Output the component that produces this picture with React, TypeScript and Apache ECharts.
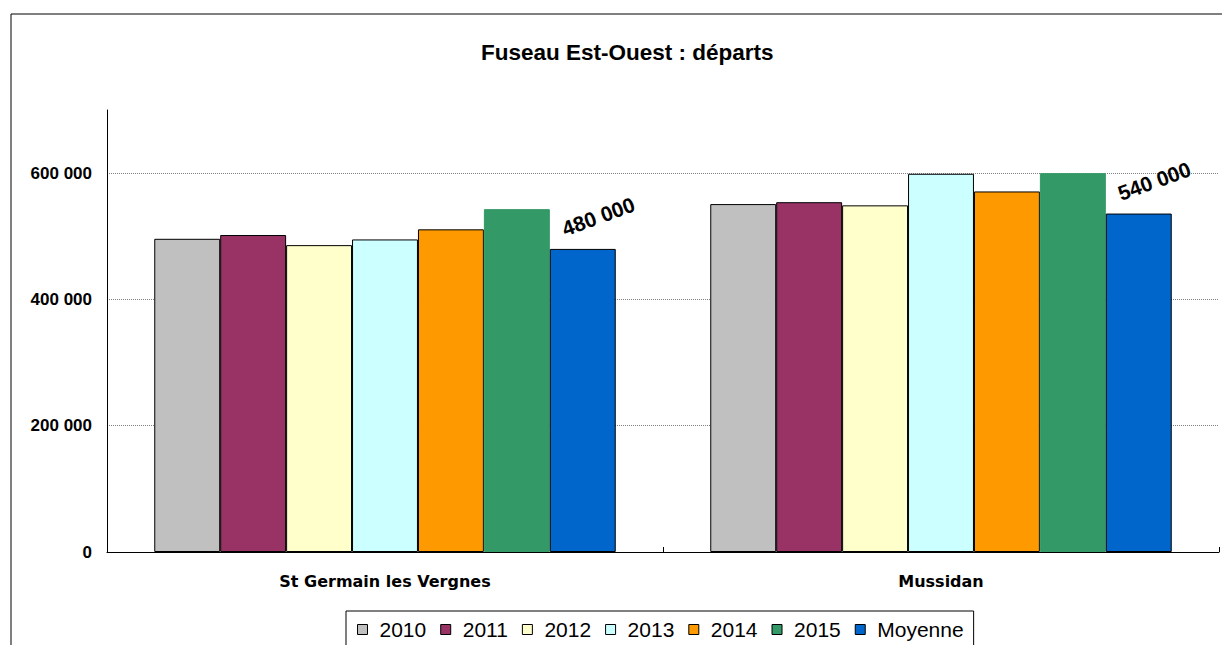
import React, { useEffect, useRef } from "react";
import * as echarts from "echarts";

const categories = ["St Germain les Vergnes", "Mussidan"];
const seriesNames = ["2010", "2011", "2012", "2013", "2014", "2015", "Moyenne"];
const v2010 = [496000, 551000];
const v2011 = [502000, 554000];
const v2012 = [486000, 549000];
const v2013 = [495000, 599000];
const v2014 = [511000, 571000];
const v2015 = [543000, 600000];
const vMoyenne = [480000, 536000];
const moyenneLabels = ["480 000", "540 000"];
const yTicks = [0, 200000, 400000, 600000];

const colors = ["#C0C0C0", "#993366", "#FFFFCC", "#CCFFFF", "#FF9900", "#339966", "#0066CC"];
const FONT = "'Liberation Sans', Arial, sans-serif";
const WIDE = "'DejaVu Sans', 'Liberation Sans', sans-serif";

function fmt(v: number) {
  if (v === 0) return "0";
  const s = String(Math.round(v));
  return s.replace(/\B(?=(\d{3})+(?!\d))/g, " ");
}

export default function App() {
  const ref = useRef<HTMLDivElement>(null);
  useEffect(() => {
    if (!ref.current) return;
    const chart = echarts.init(ref.current, undefined, { renderer: "svg" });
    const allValues = [v2010, v2011, v2012, v2013, v2014, v2015, vMoyenne];
    const series = seriesNames.map((name, i) => ({
      name,
      type: "bar",
      barGap: "0%",
      barCategoryGap: "17%",
      itemStyle: {
        color: colors[i],
        borderColor: i === 5 ? "#339966" : "#000000",
        borderWidth: 1,
      },
      data: allValues[i].map((v) => v),
      label:
        name === "Moyenne"
          ? {
              show: true,
              position: "top",
              rotate: 20,
              offset: [24, -10],
              fontFamily: FONT,
              fontWeight: "bold",
              fontSize: 21,
              color: "#000",
              formatter: (p: any) => moyenneLabels[p.dataIndex],
            }
          : { show: false },
    }));
    chart.setOption({
      animation: false,
      backgroundColor: "#ffffff",
      color: colors,
      title: {
        text: "Fuseau Est-Ouest : départs",
        left: 476,
        top: 36,
        textStyle: { fontFamily: FONT, fontWeight: "bold", fontSize: 22.5, color: "#000" },
      },
      graphic: [
        {
          type: "rect",
          shape: { x: 11, y: 14, width: 1300, height: 700 },
          style: { fill: "none", stroke: "#000", lineWidth: 1 },
          silent: true,
          z: -1,
        },
      ],
      legend: {
        data: seriesNames,
        left: 346,
        top: 611,
        icon: "rect",
        itemWidth: 10,
        itemHeight: 10,
        itemGap: 14,
        borderColor: "#000",
        borderWidth: 1,
        padding: [8, 10, 10, 11],
        itemStyle: { borderColor: "#000", borderWidth: 1 },
        textStyle: { fontFamily: FONT, fontSize: 21, color: "#000", padding: [0, 0, 0, 7] },
      },
      grid: { left: 107, right: 3, top: 110, bottom: 93, containLabel: false },
      xAxis: {
        type: "category",
        data: categories,
        axisLine: { lineStyle: { color: "#000", width: 1 } },
        axisTick: { show: true, inside: true, length: 5, lineStyle: { color: "#000" } },
        axisLabel: {
          fontFamily: WIDE,
          fontWeight: "bold",
          fontSize: 16,
          color: "#000",
          margin: 21,
        },
      },
      yAxis: {
        type: "value",
        min: 0,
        max: 700000,
        interval: 200000,
        axisLine: { show: true, lineStyle: { color: "#000", width: 1 } },
        axisTick: { show: false },
        splitLine: {
          show: true,
          lineStyle: {
            color: ["#808080", "#808080", "#808080", "#808080", "rgba(0,0,0,0)"],
            type: "dotted",
            width: 1,
          },
        },
        axisLabel: {
          fontFamily: FONT,
          fontWeight: "bold",
          fontSize: 17,
          color: "#000",
          margin: 15,
          showMaxLabel: false,
          formatter: (v: number) => (yTicks.indexOf(v) >= 0 ? fmt(v) : ""),
        },
      },
      series,
    } as any);
    return () => chart.dispose();
  }, []);
  return (
    <div
      ref={ref}
      style={{ position: "fixed", left: 0, top: 0, width: 1222, height: 645, background: "#fff" }}
    />
  );
}
